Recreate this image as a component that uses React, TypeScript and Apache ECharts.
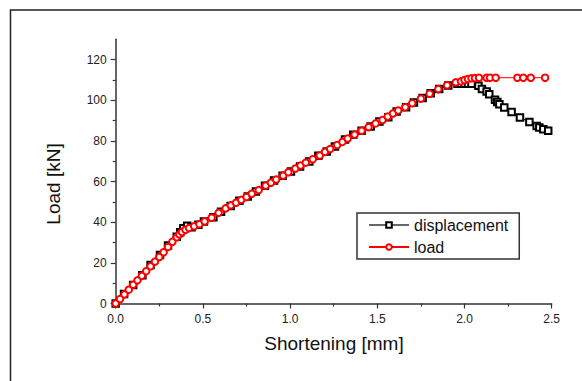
import React, { useEffect, useRef } from "react";
import * as echarts from "echarts";

const dispShortening = [0, 0.048, 0.1, 0.153, 0.2, 0.254, 0.3, 0.35, 0.37, 0.388, 0.41, 0.435, 0.474, 0.506, 0.56, 0.604, 0.659, 0.709, 0.757, 0.804, 0.856, 0.908, 0.957, 1.005, 1.057, 1.11, 1.162, 1.21, 1.257, 1.315, 1.362, 1.41, 1.462, 1.512, 1.563, 1.611, 1.665, 1.71, 1.76, 1.806, 1.855, 1.907, 1.96, 1.98, 2.0, 2.02, 2.04, 2.08, 2.1, 2.127, 2.142, 2.175, 2.188, 2.2, 2.228, 2.27, 2.318, 2.372, 2.414, 2.429, 2.452, 2.48];
const dispLoad = [0, 4.7, 9.1, 13.9, 19, 23.9, 28.5, 32.9, 35, 37, 38.2, 37.5, 38.7, 40.3, 42.5, 45.2, 48, 50.5, 52.6, 55.1, 57.9, 60.5, 62.8, 64.9, 67.4, 69.9, 72.7, 74.8, 77.3, 80.7, 83, 85, 87.1, 89.6, 91.7, 94.5, 96.6, 98.9, 101.1, 103.5, 105.5, 107.3, 108.1, 108.1, 108.1, 108.1, 108.1, 107.1, 105.5, 104.3, 103, 100.2, 99.1, 98.1, 96.5, 94.2, 91.5, 89.3, 87.4, 86.6, 85.8, 85];

const loadShortening = [0, 0.025, 0.05, 0.075, 0.1, 0.125, 0.15, 0.175, 0.2, 0.225, 0.25, 0.275, 0.3, 0.325, 0.35, 0.365, 0.38, 0.4, 0.42, 0.45, 0.48, 0.51, 0.55, 0.59, 0.63, 0.66, 0.69, 0.72, 0.75, 0.78, 0.82, 0.86, 0.89, 0.92, 0.96, 0.99, 1.03, 1.06, 1.09, 1.13, 1.17, 1.2, 1.23, 1.27, 1.3, 1.33, 1.37, 1.41, 1.45, 1.49, 1.53, 1.56, 1.59, 1.62, 1.66, 1.7, 1.75, 1.8, 1.85, 1.9, 1.95, 1.98, 2.0, 2.02, 2.04, 2.06, 2.083, 2.127, 2.146, 2.179, 2.303, 2.337, 2.38, 2.462];
const loadLoad = [0, 2.2, 4.5, 6.8, 9.2, 11.4, 13.6, 15.9, 18.3, 20.6, 22.9, 25.2, 27.8, 30.4, 32.6, 34, 35.2, 36.3, 37.1, 38, 39, 40.4, 42.2, 44.6, 46.8, 48.3, 49.6, 51, 52.4, 54, 55.8, 58, 59.4, 61, 62.9, 64.6, 66.4, 67.9, 69.3, 71, 72.8, 74.6, 76, 78, 79.5, 81.2, 83.1, 85, 86.8, 88.6, 90.3, 92, 93.5, 95, 96.6, 98.5, 100.8, 103.2, 105.5, 107.4, 108.8, 109.3, 110, 110.5, 110.8, 110.9, 111.1, 111.1, 111.1, 111.1, 111.1, 111.1, 111.1, 111.1];

const yMajorTicks = [0, 20, 40, 60, 80, 100, 120];
const yMinorTicks = [10, 30, 50, 70, 90, 110];
const seriesNames = ["displacement", "load"];

const FONT = "'Liberation Sans', Arial, sans-serif";

export default function App() {
  const ref = useRef<HTMLDivElement>(null);
  useEffect(() => {
    if (!ref.current) return;
    const chart = echarts.init(ref.current, null, { renderer: "svg" });
    const dispData = dispShortening.map((x, i) => [x, dispLoad[i]]);
    const loadData = loadShortening.map((x, i) => [x, loadLoad[i]]);
    chart.setOption({
      animation: false,
      backgroundColor: "#fff",
      textStyle: { fontFamily: FONT },
      grid: { left: 115.7, right: 30.3, top: 39.3, bottom: 77.5 },
      xAxis: {
        type: "value",
        min: 0,
        max: 2.5,
        interval: 0.5,
        axisLine: { show: true, lineStyle: { color: "#333", width: 1.5 } },
        axisTick: { show: true, inside: false, length: 5, lineStyle: { color: "#333", width: 1.2 } },
        minorTick: { show: true, splitNumber: 2, length: 3, lineStyle: { color: "#333", width: 1.2 } },
        axisLabel: { color: "#222", fontSize: 12, fontFamily: FONT, margin: 9, formatter: (v: number) => v.toFixed(1) },
        splitLine: { show: false },
      },
      yAxis: [
        {
          type: "value",
          min: 0,
          max: 130,
          axisLine: { show: true, lineStyle: { color: "#333", width: 1.5 } },
          axisTick: { show: true, inside: false, length: 5, customValues: yMajorTicks, lineStyle: { color: "#333", width: 1.2 } },
          axisLabel: { color: "#222", fontSize: 12, fontFamily: FONT, margin: 9, customValues: yMajorTicks },
          splitLine: { show: false },
        },
        {
          type: "value",
          min: 0,
          max: 130,
          position: "left",
          offset: 0,
          axisLine: { show: false },
          axisTick: { show: true, inside: false, length: 3, customValues: yMinorTicks, lineStyle: { color: "#333", width: 1.2 } },
          axisLabel: { show: false },
          splitLine: { show: false },
        },
      ],
      legend: {
        orient: "vertical",
        left: 357,
        top: 213,
        padding: [4, 11, 4, 11],
        itemGap: 6,
        itemWidth: 40,
        itemHeight: 7,
        borderColor: "#333",
        borderWidth: 1.5,
        textStyle: { fontSize: 16, lineHeight: 16, color: "#111", fontFamily: FONT },
        data: [
          { name: seriesNames[0], lineStyle: { color: "#666", width: 2 } },
          { name: seriesNames[1] },
        ],
      },
      graphic: [
        {
          type: "rect",
          shape: { x: 10.5, y: 10, width: 700, height: 500 },
          style: { fill: "none", stroke: "#222", lineWidth: 1.5 },
          silent: true,
        },
        {
          type: "text",
          x: 53,
          y: 184,
          rotation: Math.PI / 2,
          style: { text: "Load [kN]", fontSize: 19, fontFamily: FONT, fill: "#111", align: "center", verticalAlign: "middle" },
        },
        {
          type: "text",
          x: 334,
          y: 343,
          style: { text: "Shortening [mm]", fontSize: 19, fontFamily: FONT, fill: "#111", align: "center", verticalAlign: "middle" },
        },
      ],
      series: [
        {
          name: seriesNames[0],
          type: "line",
          data: dispData,
          symbol: "emptyRect",
          symbolSize: 6.5,
          showAllSymbol: true,
          lineStyle: { color: "#000", width: 1 },
          itemStyle: { color: "#000", borderColor: "#000", borderWidth: 0.8 },
        },
        {
          name: seriesNames[1],
          type: "line",
          data: loadData,
          symbol: "emptyCircle",
          symbolSize: 6.5,
          showAllSymbol: true,
          lineStyle: { color: "#f00", width: 1 },
          itemStyle: { color: "#f00", borderColor: "#f00", borderWidth: 0.8 },
        },
      ],
    });
    return () => chart.dispose();
  }, []);
  return <div ref={ref} style={{ position: "fixed", left: 0, top: 0, width: 582, height: 381 }} />;
}
